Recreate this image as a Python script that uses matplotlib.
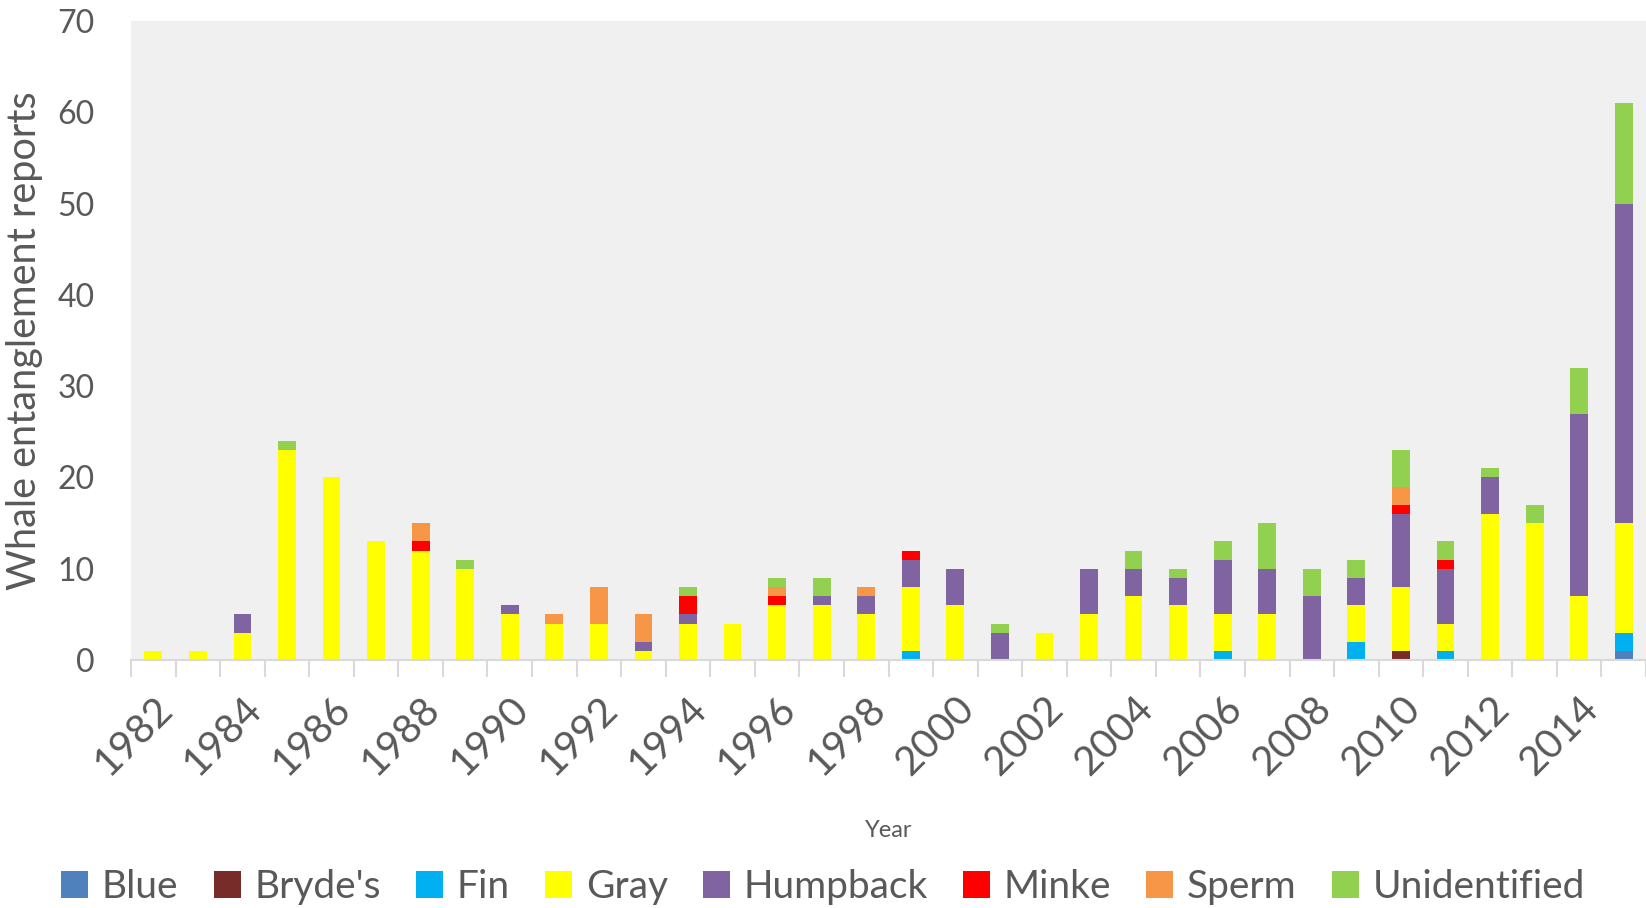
import matplotlib
matplotlib.use("Agg")
import matplotlib.pyplot as plt
import numpy as np

plt.rcParams['font.family'] = ['Lato', 'DejaVu Sans']

years = list(range(1982, 2016))

# counts per species per year
blue = [0,0,0,0,0,0,0,0,0,0,0,0,0,0,0,0,0,0,0,0,0,0,0,0,0,0,0,0,0,0,0,0,0,1]
brydes = [0,0,0,0,0,0,0,0,0,0,0,0,0,0,0,0,0,0,0,0,0,0,0,0,0,0,0,0,1,0,0,0,0,0]
fin = [0,0,0,0,0,0,0,0,0,0,0,0,0,0,0,0,0,1,0,0,0,0,0,0,1,0,0,2,0,1,0,0,0,2]
gray = [1,1,3,23,20,13,12,10,5,4,4,1,4,4,6,6,5,7,6,0,3,5,7,6,4,5,0,4,7,3,16,15,7,12]
humpback = [0,0,2,0,0,0,0,0,1,0,0,1,1,0,0,1,2,3,4,3,0,5,3,3,6,5,7,3,8,6,4,0,20,35]
minke = [0,0,0,0,0,0,1,0,0,0,0,0,2,0,1,0,0,1,0,0,0,0,0,0,0,0,0,0,1,1,0,0,0,0]
sperm = [0,0,0,0,0,0,2,0,0,1,4,3,0,0,1,0,1,0,0,0,0,0,0,0,0,0,0,0,2,0,0,0,0,0]
unident = [0,0,0,1,0,0,0,1,0,0,0,0,1,0,1,2,0,0,0,1,0,0,2,1,2,5,3,2,4,2,1,2,5,11]

series = [
    ("Blue", blue, "#4F81BD"),
    ("Bryde's", brydes, "#772C2A"),
    ("Fin", fin, "#00B0F0"),
    ("Gray", gray, "#FFFF00"),
    ("Humpback", humpback, "#8064A2"),
    ("Minke", minke, "#FF0000"),
    ("Sperm", sperm, "#F79646"),
    ("Unidentified", unident, "#92D050"),
]

fig = plt.figure(figsize=(16.46, 9.08), dpi=100)
ax = fig.add_axes([0.0796, 0.273, 0.9204, 0.704])
ax.set_facecolor("#F0F0F0")

x = np.arange(len(years))
bottom = np.zeros(len(years))
for name, vals, col in series:
    vals = np.array(vals)
    ax.bar(x, vals, 0.4, bottom=bottom, color=col, label=name)
    bottom += vals

ax.set_xlim(-0.5, len(years) - 0.5)
ax.set_ylim(0, 70)
ax.set_yticks(range(0, 71, 10))
ax.tick_params(axis='y', length=0, labelsize=23, labelcolor="#595959", pad=26)

ax.set_xticks(x)
ax.set_xticklabels([str(y) if y % 2 == 0 else "" for y in years],
                   rotation=45, ha='right', rotation_mode='anchor')
ax.tick_params(axis='x', which='major', length=0, labelsize=29, labelcolor="#595959", pad=21)
ax.set_xticks(np.arange(-0.5, len(years), 1), minor=True)
ax.tick_params(axis='x', which='minor', length=12, color="#D9D9D9", width=1.5)

for s in ['top', 'right', 'left']:
    ax.spines[s].set_visible(False)
ax.spines['bottom'].set_color("#D9D9D9")
ax.spines['bottom'].set_linewidth(1.5)

ax.set_ylabel("Whale entanglement reports", fontsize=28.5, color="#595959")
ax.yaxis.set_label_coords(-0.058, 0.5)
ax.set_xlabel("Year", fontsize=17, color="#595959")
ax.xaxis.set_label_coords(0.5, -0.25)

fig.legend(loc='lower center', ncol=8, bbox_to_anchor=(0.5, -0.035), frameon=False,
           fontsize=28, labelcolor="#595959", handlelength=0.7, handleheight=0.7,
           handletextpad=0.35, columnspacing=0.9)

fig.savefig("out.png", dpi=100)
